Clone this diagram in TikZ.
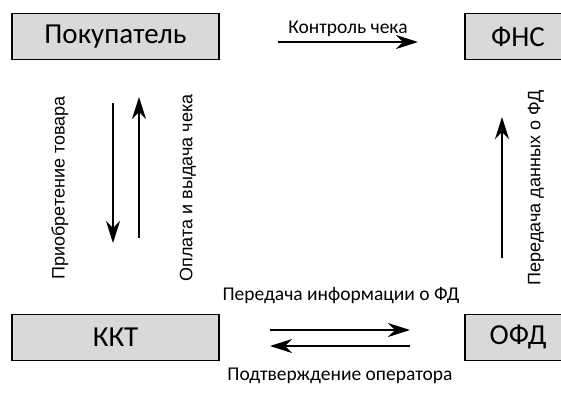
\documentclass[tikz,border=0pt]{standalone}
\usepackage{fontspec}
\setmainfont{Carlito}
\newfontfamily\arialfont{Liberation Sans}
\usetikzlibrary{arrows.meta}
\definecolor{boxgray}{RGB}{217,217,217}

\begin{document}
\begin{tikzpicture}[x=1pt,y=-1pt,
  box/.style={draw, line width=1.8pt, fill=boxgray, inner sep=0pt,
    minimum height=46pt, font=\fontsize{29}{34}\selectfont},
  flow/.style={-{Stealth[length=22pt,width=14pt,inset=7pt]}, line width=1.5pt},
  lbl/.style={inner sep=0pt, anchor=base, font=\fontsize{19.5}{24}\selectfont},
  vlbl/.style={inner sep=0pt, rotate=90, font=\arialfont\fontsize{18}{21}\selectfont}]
\useasboundingbox (0,0) rectangle (561,392);

\node[box, minimum width=207pt] (buyer) at (115.5,36.5) {Покупатель};
\node[box, minimum width=106pt] (fns) at (518,36.5) {ФНС};
\node[box, minimum width=207pt] (kkt) at (115.5,337.5) {ККТ};
\node[box, minimum width=106pt] (ofd) at (518,337.5) {ОФД};

\coordinate (ctl1) at (278,42);  \coordinate (ctl2) at (418,42);
\coordinate (buy1) at (113,103); \coordinate (buy2) at (113,243);
\coordinate (pay1) at (139,238); \coordinate (pay2) at (139,97);
\coordinate (fd1) at (502,258);  \coordinate (fd2) at (502,117);
\coordinate (inf1) at (270,330); \coordinate (inf2) at (410,330);
\coordinate (cnf1) at (410,346); \coordinate (cnf2) at (270,346);

\path
(ctl1) edge [flow] (ctl2)
(buy1) edge [flow] (buy2)
(pay1) edge [flow] (pay2)
(fd1)  edge [flow] (fd2)
(inf1) edge [flow] (inf2)
(cnf1) edge [flow] (cnf2);

\node[lbl] (ctltext) at (348,33) {Контроль чека};
\node[lbl] (inftext) at (341,300) {Передача информации о ФД};
\node[lbl] (cnftext) at (340,380) {Подтверждение оператора};
\node[vlbl] (buytext) at (60,188) {Приобретение товара};
\node[vlbl] (paytext) at (188,188) {Оплата и выдача чека};
\node[vlbl] (fdtext) at (536,188) {Передача данных о ФД};
\end{tikzpicture}
\end{document}
